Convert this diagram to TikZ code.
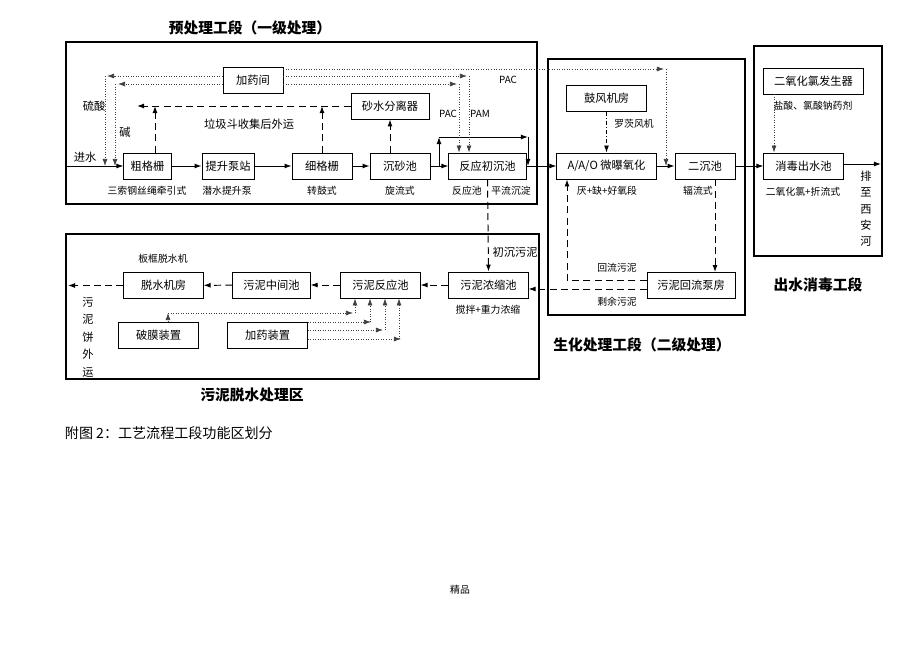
\documentclass[tikz,border=0pt]{standalone}
\usepackage{fontspec}
\setmainfont{Noto Sans CJK SC}
\usetikzlibrary{arrows.meta}

\begin{document}
\begin{tikzpicture}[x=0.025cm, y=-0.025cm, >={Latex[length=5pt,width=3.5pt]},
  box/.style={draw, line width=0.6pt, minimum height=0.65cm, minimum width=1.98cm, inner sep=0pt, font=\fontsize{8}{10}\selectfont},
  zone/.style={draw, line width=2pt},
  note/.style={font=\fontsize{7}{9}\selectfont, inner sep=1pt},
  zonetitle/.style={font=\fontsize{10.5}{12}\selectfont\bfseries},
  flow/.style={->, line width=0.7pt},
  sludge/.style={->, dash pattern=on 5pt off 3pt, line width=0.7pt},
  dose/.style={->, dash pattern=on 0.6pt off 1.2pt, line width=0.5pt, black!75}]
  \useasboundingbox (0,0) rectangle (920,651);

  % zones
  \draw[zone] (66,42) rectangle (537,204);
  \draw[zone] (548,59) rectangle (745,315);
  \draw[zone] (754,46) rectangle (882,256);
  \draw[zone] (66,234) rectangle (539,379);
  \node[zonetitle] (t1) at (250,28) {预处理工段（一级处理）};
  \node[zonetitle] (t2) at (642,345) {生化处理工段（二级处理）};
  \node[zonetitle] (t3) at (818,285) {出水消毒工段};
  \node[zonetitle] (t4) at (252,395) {污泥脱水处理区};

  % pretreatment
  \node[box, minimum width=1.18cm] (cuge) at (147.5,166) {粗格栅};
  \node[box, minimum width=1.3cm] (tisheng) at (228,166) {提升泵站};
  \node[box, minimum width=1.5cm] (xige) at (322,166) {细格栅};
  \node[box, minimum width=1.5cm] (chensha) at (400,166) {沉砂池};
  \node[box, minimum width=1.93cm] (fanying) at (487.5,166) {反应初沉池};
  \node[box, minimum width=1.95cm] (shashui) at (390,106) {砂水分离器};
  \node[box, minimum width=1.5cm] (jiayao) at (253,80) {加药间};
  \coordinate (inlet) at (66,166);
  \draw[flow] (inlet) -- (cuge);
  \draw[flow] (cuge) -- (tisheng);
  \draw[flow] (tisheng) -- (xige);
  \draw[flow] (xige) -- (chensha);
  \draw[flow] (chensha) -- (fanying);
  \node[note, font=\fontsize{8}{9}\selectfont] (jinshui) at (85,157) {进水};
  \node[note] at (147,191) {三索钢丝绳牵引式};
  \node[note] at (227,191) {潜水提升泵};
  \node[note] at (322,191) {转鼓式};
  \node[note] at (400,191) {旋流式};
  \node[note] at (467,191) {反应池};
  \node[note] at (511,191) {平流沉淀};

  % bypass over the settling tank
  \coordinate (bp1) at (439,166);
  \coordinate (bp2) at (439,137);
  \coordinate (bp3) at (528,137);
  \coordinate (bp4) at (528,166);
  \draw[flow] (bp1) -- (bp2);
  \draw[flow] (bp2) -- (bp3);
  \draw[flow] (bp3) -- (bp4);

  % screenings and grit
  \coordinate (laji) at (137,106);
  \draw[sludge] (shashui.west) -- (laji);
  \draw[sludge] (cuge.north -| 155,0) -- (shashui.west -| 155,0);
  \draw[sludge] (xige.north) -- (xige.north |- shashui.west);
  \draw[sludge] (chensha.north -| shashui.south) -- (shashui.south);
  \node[note, font=\fontsize{8}{9}\selectfont] at (249,124) {垃圾斗收集后外运};

  % dosing room
  \draw[dose] (jiayao.west |- 0,76) -- (107,76);
  \draw[dose] (105,76) -- (inlet -| 105,0);
  \draw[dose] (jiayao.west |- 0,84) -- (118,84);
  \draw[dose] (115,84) -- (inlet -| 115,0);
  \node[note, font=\fontsize{8}{9}\selectfont] at (94,106) {硫酸};
  \node[note, font=\fontsize{8}{9}\selectfont] at (125,132) {碱};
  \draw[dose] (jiayao.east |- 0,69) -- (664,69);
  \draw[dose] (jiayao.east |- 0,76) -- (467,76);
  \draw[dose] (469,76) -- (fanying.north -| 469,0);
  \draw[dose] (jiayao.east |- 0,84) -- (457,84);
  \draw[dose] (459,84) -- (fanying.north -| 459,0);
  \node[note] at (448,114) {PAC};
  \node[note] at (480,114) {PAM};
  \node[note] at (508,80) {PAC};

  % biological treatment
  \node[box] (gufeng) at (606.5,98) {鼓风机房};
  \node[box, minimum width=2.48cm] (aao) at (606.5,166) {A/A/O 微曝氧化};
  \node[box, minimum width=1.5cm] (erchen) at (705,166) {二沉池};
  \node[box, minimum width=2.2cm] (huiliu) at (691,285.5) {污泥回流泵房};
  \draw[flow] (fanying.east) -- (aao.west);
  \draw[dose] (666,69) -- (aao.east -| 666,0);
  \draw[->, dash pattern=on 3pt off 1.5pt on 0.6pt off 1.5pt, line width=0.6pt] (gufeng) -- (aao);
  \draw[flow] (aao) -- (erchen);
  \draw[sludge] (erchen.south -| 715,0) -- (huiliu.north -| 715,0);
  \draw[sludge] (huiliu.west |- 0,280) -- (567,280) -- (aao.south -| 567,0);
  \node[note] at (634,124) {罗茨风机};
  \node[note] at (607,191) {厌+缺+好氧段};
  \node[note] at (698,191) {辐流式};
  \node[note] at (617,268) {回流污泥};
  \node[note] at (617,302) {剩余污泥};

  % disinfection
  \node[box, minimum width=2.48cm] (clo2) at (813.5,81) {二氧化氯发生器};
  \node[box] (xiaodu) at (803.5,166) {消毒出水池};
  \coordinate (outlet) at (881,164);
  \draw[flow] (erchen) -- (xiaodu);
  \draw[flow] (xiaodu.east |- outlet) -- (outlet);
  \draw[dose] (clo2.south -| 774,0) -- (xiaodu.north -| 774,0);
  \node[note] at (813,106) {盐酸、氯酸钠药剂};
  \node[note] at (803,192) {二氧化氯+折流式};
  \node[note, align=center, font=\fontsize{8}{11.6}\selectfont] at (866,209) {排\\至\\西\\安\\河};

  % sludge dewatering
  \node[box] (nongsuo) at (488.5,285) {污泥浓缩池};
  \node[box] (wnfy) at (380.5,285) {污泥反应池};
  \node[box, minimum width=1.93cm] (zhongjian) at (271.5,285) {污泥中间池};
  \node[box] (tuoshui) at (163.5,285.5) {脱水机房};
  \node[box] (pomo) at (158.5,335) {破膜装置};
  \node[box] (yaozz) at (267.5,335) {加药装置};
  \coordinate (cake) at (68,285.5);
  \draw[sludge] (huiliu.west |- 0,289) -- (nongsuo.east |- 0,289);
  \draw[sludge] (fanying.south) -- (nongsuo.north);
  \draw[sludge] (nongsuo) -- (wnfy);
  \draw[sludge] (wnfy) -- (zhongjian);
  \draw[sludge] (zhongjian) -- (tuoshui);
  \draw[sludge] (tuoshui) -- (cake);
  \draw[dose] (pomo.north -| 168,0) -- (168,313);
  \draw[dose] (168,313) -- (353,313);
  \draw[dose] (355,313) -- (wnfy.south -| 355,0);
  \draw[dose] (yaozz.east |- 0,322) -- (371,322);
  \draw[dose] (370,322) -- (wnfy.south -| 370,0);
  \draw[dose] (yaozz.east |- 0,330) -- (383,330);
  \draw[dose] (385,330) -- (wnfy.south -| 385,0);
  \draw[dose] (yaozz.east |- 0,339) -- (401,339);
  \draw[dose] (399,339) -- (wnfy.south -| 399,0);
  \node[note, font=\fontsize{8}{9}\selectfont] at (515,252) {初沉污泥};
  \node[note] at (163,259) {板框脱水机};
  \node[note] at (488,310) {搅拌+重力浓缩};
  \node[note, align=center, font=\fontsize{8}{12.4}\selectfont] at (88,337) {污\\泥\\饼\\外\\运};

  % caption
  \node[anchor=west, font=\fontsize{10}{12}\selectfont] (caption) at (60,433) {附图 2：工艺流程工段功能区划分};
  \node[font=\fontsize{7}{8}\selectfont] (jingpin) at (460,590) {精品};
\end{tikzpicture}
\end{document}
